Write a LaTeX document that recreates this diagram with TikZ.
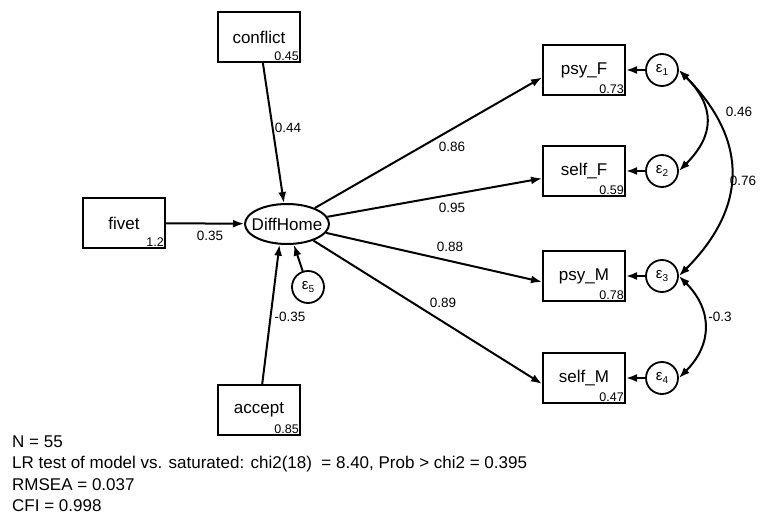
\documentclass[tikz,border=0pt]{standalone}
\usepackage{fontspec}
\setmainfont{Liberation Sans}
\usetikzlibrary{arrows.meta,shapes.geometric,positioning}
\tikzstyle{obs} = [draw, rectangle, line width=2pt, minimum width=82pt,
    minimum height=50pt, inner sep=0pt, font=\fontsize{17}{20}\selectfont]
\tikzstyle{lat} = [draw, ellipse, line width=2pt, minimum width=84pt,
    minimum height=40pt, inner xsep=-6pt, inner ysep=0pt,
    font=\fontsize{17}{20}\selectfont]
\tikzstyle{err} = [draw, circle, line width=1.8pt, minimum size=32pt,
    inner sep=0pt, font=\fontsize{15}{17}\selectfont]
\tikzstyle{reg} = [-{Latex[length=11pt,width=8pt]}, line width=2pt]
\tikzstyle{cov} = [{Latex[length=11pt,width=8pt]}-{Latex[length=11pt,width=8pt]},
    line width=2pt]
\tikzstyle{coef} = [font=\fontsize{13.5}{16}\selectfont, inner sep=0pt]
\tikzstyle{var} = [anchor=south east, inner sep=2pt, font=\fontsize{12.5}{14}\selectfont]
\tikzstyle{fitstat} = [anchor=base west, inner sep=0pt, font=\fontsize{17}{20}\selectfont]
\newcommand{\eps}[1]{ε\raisebox{-0.3ex}{\fontsize{10}{11}\selectfont #1}}

\begin{document}
\begin{tikzpicture}[x=1pt, y=-1pt, node distance = 78pt]
  \useasboundingbox (0,0) rectangle (761,514);
  % Place nodes
  \node [lat] (dh) at (287,224) {DiffHome};
  \node [obs, label={[var]south east:0.45}] (conflict) at (259,37) {conflict};
  \node [obs, label={[var]south east:1.2}] (fivet) at (124,223) {fivet};
  \node [obs, label={[var]south east:0.85}] (accept) at (259,410) {accept};
  \node [err] (e5) at (308,287) {\eps{5}};
  \node [obs, label={[var]south east:0.73}] (psyF) at (584,70) {psy\_F};
  \node [obs, label={[var]south east:0.59}] (selfF) at (584,171) {self\_F};
  \node [obs, label={[var]south east:0.78}] (psyM) at (584,276) {psy\_M};
  \node [obs, label={[var]south east:0.47}] (selfM) at (584,378) {self\_M};
  \node [err, right of=psyF] (e1) {\eps{1}};
  \node [err, right of=selfF] (e2) {\eps{2}};
  \node [err, right of=psyM] (e3) {\eps{3}};
  \node [err, right of=selfM] (e4) {\eps{4}};
  % Paths
  \draw [reg] (conflict) -- (dh);
  \draw [reg] (fivet) -- (dh);
  \draw [reg] (accept) -- (dh.250);
  \draw [reg] (e5) -- (dh);
  \draw [reg] (dh) -- (psyF.190);
  \draw [reg] (dh) -- (selfF.190);
  \draw [reg] (dh) -- (psyM.188);
  \draw [reg] (dh) -- (selfM.188);
  \draw [reg] (e1) -- (psyF);
  \draw [reg] (e2) -- (selfF);
  \draw [reg] (e3) -- (psyM);
  \draw [reg] (e4) -- (selfM);
  \draw [cov] (e1.east) to [out=-45,in=45,looseness=1.3] (e2.east);
  \draw [cov] (e1.east) to [out=-45,in=45,looseness=1.22] (e3.east);
  \draw [cov] (e3.east) to [out=-45,in=45,looseness=1.2] (e4.east);
  % Coefficients
  \node [coef] (c1) at (288,128) {0.44};
  \node [coef] (c2) at (210,236) {0.35};
  \node [coef] (c3) at (290,317) {-0.35};
  \node [coef] (c4) at (452,147) {0.86};
  \node [coef] (c5) at (452,208) {0.95};
  \node [coef] (c6) at (450,247) {0.88};
  \node [coef] (c7) at (443,303) {0.89};
  \node [coef] (c8) at (739,112) {0.46};
  \node [coef] (c9) at (743,181) {0.76};
  \node [coef] (c10) at (720,317) {-0.3};
  % Fit statistics
  \node [fitstat] (n1) at (12,447) {N = 55};
  \node [fitstat] (n2) at (12,468) {LR test of model vs. saturated: chi2(18)\ \ = 8.40, Prob > chi2 = 0.395};
  \node [fitstat] (n3) at (12,490) {RMSEA = 0.037};
  \node [fitstat] (n4) at (12,511) {CFI = 0.998};
\end{tikzpicture}
\end{document}
